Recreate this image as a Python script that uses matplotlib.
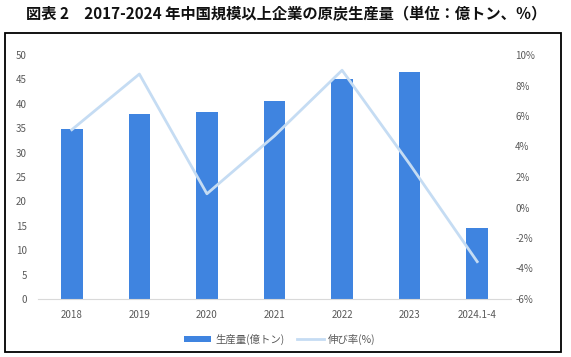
import matplotlib
matplotlib.use("Agg")
import matplotlib.pyplot as plt
from matplotlib.patches import Rectangle
from matplotlib.ticker import FuncFormatter

plt.rcParams['font.family'] = ['Noto Sans CJK JP', 'DejaVu Sans']

categories = ["2018", "2019", "2020", "2021", "2022", "2023", "2024.1-4"]
production = [34.8, 38.0, 38.4, 40.6, 45.0, 46.6, 14.5]
growth = [5.1, 8.75, 0.9, 4.7, 9.0, 2.85, -3.55]
left_ticks = list(range(0, 51, 5))
right_ticks = list(range(-6, 11, 2))

W, H = 571, 357
fig = plt.figure(figsize=(W/100, H/100), dpi=100)

ax = fig.add_axes([38/W, 1-299/H, (511-38)/W, (299-55)/H])
x = list(range(len(categories)))
bar_color = "#3F84E0"
line_color = "#C5DCF3"
bars = ax.bar(x, production, width=0.32, color=bar_color, label="生産量(億トン)", zorder=2)
ax.set_ylim(0, 50)
ax.set_yticks(left_ticks)
ax.set_xlim(-0.5, len(categories)-0.5)
ax.set_xticks(x)
ax.set_xticklabels(categories)
for s in ['top', 'right', 'left']:
    ax.spines[s].set_visible(False)
ax.spines['bottom'].set_color("#D9D9D9")
ax.tick_params(axis='both', length=0, labelsize=7, colors="#595959", pad=8)
ax.tick_params(axis='x', pad=8)

ax2 = ax.twinx()
ln, = ax2.plot(x, growth, color=line_color, lw=2.0, label="伸び率(%)", zorder=3)
ax2.set_ylim(-6, 10)
ax2.set_yticks(right_ticks)
ax2.yaxis.set_major_formatter(FuncFormatter(lambda v, p: f"{int(v)}%"))
for s in ax2.spines.values():
    s.set_visible(False)
ax2.tick_params(axis='y', length=0, labelsize=7, colors="#595959", pad=3)

fig.legend(handles=[bars, ln], labels=["生産量(億トン)", "伸び率(%)"],
           loc='center', bbox_to_anchor=(280/W, 1-339/H), ncol=2, frameon=False,
           fontsize=7.5, labelcolor="#595959", handlelength=2.6, handleheight=0.5,
           columnspacing=1.2, handletextpad=0.4)

fig.patches.append(Rectangle((5/W, 1-352/H), (561-5)/W, (352-33)/H, transform=fig.transFigure,
                             fill=False, edgecolor="black", lw=1.3))

fig.text(286/W, 1-14/H, "図表 2　2017-2024 年中国規模以上企業の原炭生産量（単位：億トン、％）",
         ha='center', va='center', fontsize=11.0, fontweight='bold', color="#111111")

fig.savefig("out.png", dpi=100)
